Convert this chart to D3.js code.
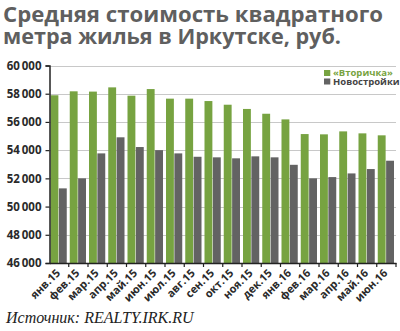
<!DOCTYPE html>
<html><head><meta charset="utf-8">
<script src="https://cdn.jsdelivr.net/npm/d3@7"></script>
<style>
body{margin:0;background:#fff;}
svg{display:block;}
</style></head>
<body>
<svg id="c" width="400" height="331"></svg>
<script>
const categories = ["янв.15","фев.15","мар.15","апр.15","май.15","июн.15","июл.15","авг.15","сен.15","окт.15","ноя.15","дек.15","янв.16","фев.16","мар.16","апр.16","май.16","июн.16"];
const secondary = [57890,58170,58150,58450,57860,58330,57650,57650,57480,57220,56920,56580,56180,55140,55120,55330,55190,55050];
const newBuild = [51290,52000,53770,54910,54220,54000,53770,53530,53490,53420,53560,53490,52960,52000,52090,52350,52660,53250];
const yTicks = [46000,48000,50000,52000,54000,56000,58000,60000];
const seriesNames = ["«Вторичка»","Новостройки"];
const titleLines = ["Средняя стоимость квадратного","метра жилья в Иркутске, руб."];
const sourceText = "Источник: REALTY.IRK.RU";

const GREEN = "#77a341", DARK = "#636363";
const svg = d3.select("#c");
const x = d3.scaleBand().domain(categories).range([49.5,396]).paddingInner(0).paddingOuter(0);
const sub = d3.scaleBand().domain([0,1]).range([1, x.bandwidth()-2]).paddingInner(0.06);
const y = d3.scaleLinear().domain([46000,60000]).range([263,65.5]);

// title
svg.append("g").selectAll("text").data(titleLines).join("text")
  .attr("x",3).attr("y",(d,i)=>21.5+i*22.8)
  .attr("font-family","Open Sans").attr("font-weight","bold").attr("font-size",20.5)
  .attr("fill","#5f5f5f").text(d=>d)
  .each(function(d,i){ const target = i===0?380:338; this.setAttribute("textLength",target); this.setAttribute("lengthAdjust","spacingAndGlyphs");});

// grid
svg.append("g").selectAll("line").data(yTicks.filter(t=>t>46000)).join("line")
  .attr("x1",49.5).attr("x2",396).attr("y1",d=>Math.round(y(d))+0.5).attr("y2",d=>Math.round(y(d))+0.5)
  .attr("stroke","#c8c8c8").attr("stroke-width",1);

// bars
const g = svg.append("g");
categories.forEach((c,i)=>{
  [secondary[i],newBuild[i]].forEach((v,k)=>{
    g.append("rect").attr("x",x(c)+sub(k)).attr("width",sub.bandwidth())
      .attr("y",y(v)).attr("height",y(46000)-y(v)).attr("fill",k===0?GREEN:DARK);
  });
});

// y axis
const ya = svg.append("g").attr("transform","translate(49.5,0)")
  .call(d3.axisLeft(y).tickValues(yTicks).tickSize(4).tickFormat(d=>d3.format(",")(d).replace(",","\u2009")));
ya.select(".domain").attr("stroke","#222").attr("stroke-width",1.5);
ya.selectAll(".tick line").attr("stroke","#222").attr("stroke-width",1.2);
ya.selectAll("text").attr("font-family","Open Sans").attr("font-weight","bold").attr("font-size",11.5).attr("fill","#2a2a2a").attr("dx","-1");

// x axis
const xa = svg.append("g").attr("transform","translate(0,263)")
  .call(d3.axisBottom(x).tickSize(0));
xa.select(".domain").attr("stroke","#222").attr("stroke-width",1.5);
xa.selectAll(".tick text").remove();
svg.append("g").selectAll("line").data(categories).join("line")
  .attr("x1",d=>x(d)+x.step()).attr("x2",d=>x(d)+x.step())
  .attr("y1",263).attr("y2",267).attr("stroke","#222").attr("stroke-width",1.2);
svg.append("g").selectAll("text").data(categories).join("text")
  .attr("transform",d=>`translate(${x(d)+x.bandwidth()/2-1},271) rotate(-45)`)
  .attr("text-anchor","end").attr("dy","0.35em")
  .attr("font-family","Open Sans").attr("font-weight","bold").attr("font-size",11).attr("fill","#2a2a2a")
  .text(d=>d);

// legend
const lg = svg.append("g");
seriesNames.forEach((n,k)=>{
  lg.append("rect").attr("x",324).attr("y",70+k*8.5).attr("width",6.3).attr("height",6).attr("fill",k===0?GREEN:DARK);
  lg.append("text").attr("x",333).attr("y",76+k*8.5).attr("font-family","Open Sans").attr("font-weight","bold")
    .attr("font-size",9.5).attr("fill",k===0?GREEN:"#444").text(n);
});

// source
svg.append("text").attr("x",6).attr("y",323).attr("font-family","Liberation Serif").attr("font-style","italic")
  .attr("font-size",16).attr("fill","#222").text(sourceText);
</script>
</body></html>
